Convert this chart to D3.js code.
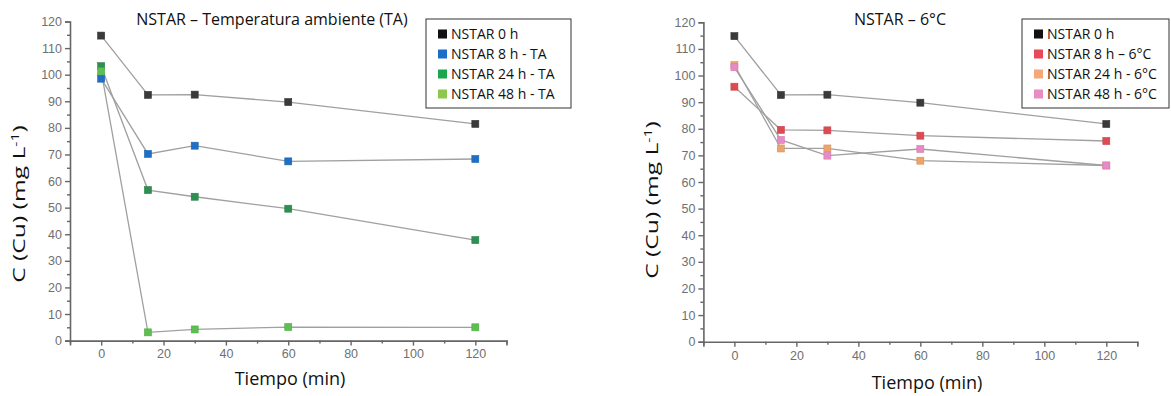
<!DOCTYPE html>
<html><head><meta charset="utf-8">
<script src="https://cdn.jsdelivr.net/npm/d3@7"></script>
<style>
body{margin:0;background:#fff;}
svg{display:block;}
</style></head>
<body><svg id="c" width="1171" height="396"></svg>
<script>
const times = [0, 15, 30, 60, 120];
const xTicks = [0, 20, 40, 60, 80, 100, 120];
const yTicks = [0, 10, 20, 30, 40, 50, 60, 70, 80, 90, 100, 110, 120];

const leftNames = ["NSTAR 0 h", "NSTAR 8 h - TA", "NSTAR 24 h - TA", "NSTAR 48 h - TA"];
const left0h = [114.7, 92.4, 92.5, 89.7, 81.5];
const left8h = [98.5, 70.2, 73.3, 67.4, 68.3];
const left24h = [103.2, 56.6, 54.1, 49.6, 37.8];
const left48h = [101.3, 3.1, 4.2, 5.1, 5.0];
const leftColors = ["#3a3a3a", "#1f6fc6", "#2f8f52", "#5cbf4f"];
const leftLegendColors = ["#111111", "#1a6ec8", "#1aa64a", "#8cc84b"];

const rightNames = ["NSTAR 0 h", "NSTAR 8 h \u2013 6\u00b0C", "NSTAR 24 h - 6\u00b0C", "NSTAR 48 h - 6\u00b0C"];
const right0h = [114.8, 92.7, 92.8, 89.8, 81.8];
const right8h = [95.8, 79.6, 79.4, 77.4, 75.4];
const right24h = [103.9, 72.6, 72.6, 68.0, 66.2];
const right48h = [103.1, 75.8, 69.9, 72.4, 66.2];
const rightColors = ["#3a3a3a", "#de4a52", "#eea468", "#e88ac6"];
const rightLegendColors = ["#111111", "#e8485a", "#f2a878", "#e88cc4"];

const svg = d3.select("#c");

function panel(cfg) {
  const x = d3.scaleLinear().domain([-10, 130]).range([cfg.x0, cfg.x1]);
  const y = d3.scaleLinear().domain([0, 120]).range([cfg.yb, cfg.yt]);
  const g = svg.append("g");

  const xAxis = d3.axisBottom(x).tickValues(xTicks).tickSize(5).tickPadding(4);
  const xMinor = d3.axisBottom(x).tickValues(d3.range(-10, 131, 10).filter(v => v % 20 !== 0)).tickSize(3).tickFormat("");
  const yAxis = d3.axisLeft(y).tickValues(yTicks).tickSize(5).tickPadding(3);
  const yMinor = d3.axisLeft(y).tickValues(d3.range(5, 120, 10)).tickSize(3).tickFormat("");

  const gx = g.append("g").attr("transform", `translate(0,${cfg.yb})`).call(xAxis);
  const gxm = g.append("g").attr("transform", `translate(0,${cfg.yb})`).call(xMinor);
  const gy = g.append("g").attr("transform", `translate(${cfg.x0},0)`).call(yAxis);
  const gym = g.append("g").attr("transform", `translate(${cfg.x0},0)`).call(yMinor);
  [gx, gxm, gy, gym].forEach(a => {
    a.select(".domain").attr("stroke", "#666").attr("stroke-width", 1.6);
    a.selectAll(".tick line").attr("stroke", "#666").attr("stroke-width", 1.4);
    a.selectAll(".tick text").attr("fill", "#707070").style("font-family", "Liberation Sans, Arial, sans-serif").style("font-size", "12.5px");
  });
  gxm.select(".domain").remove();
  gym.select(".domain").remove();

  const line = d3.line().x((d, i) => x(times[i])).y(d => y(d));
  cfg.series.forEach((s, k) => {
    g.append("path").datum(s).attr("d", line)
      .attr("fill", "none").attr("stroke", "#a0a0a0").attr("stroke-width", 1.3);
  });
  cfg.series.forEach((s, k) => {
    g.selectAll(null).data(s).enter().append("rect")
      .attr("x", (d, i) => x(times[i]) - 3.5).attr("y", d => y(d) - 3.5)
      .attr("width", 7).attr("height", 7)
      .attr("fill", cfg.colors[k])
      .attr("stroke", d3.color(cfg.colors[k]).darker(0.3)).attr("stroke-width", 0.6);
  });

  g.append("text").attr("x", cfg.titleX).attr("y", cfg.titleY).attr("text-anchor", "middle")
    .style("font-family", "Open Sans, sans-serif").style("font-size", "16px").attr("fill", "#111")
    .text(cfg.title);

  const lg = g.append("g");
  lg.append("rect").attr("x", cfg.lx).attr("y", 19).attr("width", cfg.lw).attr("height", 89)
    .attr("fill", "#fff").attr("stroke", "#333").attr("stroke-width", 1);
  cfg.names.forEach((n, i) => {
    const cy = 34 + i * 20;
    lg.append("rect").attr("x", cfg.lx + 12).attr("y", cy - 4.5).attr("width", 9).attr("height", 9).attr("fill", cfg.lcolors[i]);
    lg.append("text").attr("x", cfg.lx + 25).attr("y", cy + 5)
      .style("font-family", "Open Sans, sans-serif").style("font-size", "14px").attr("fill", "#111").text(n);
  });

  g.append("text").attr("x", cfg.xlX).attr("y", cfg.xlY).attr("text-anchor", "middle")
    .style("font-family", "Open Sans, sans-serif").style("font-size", "18px").attr("fill", "#111")
    .text("Tiempo (min)");
  const yl = g.append("text").attr("transform", `translate(${cfg.ylX},${cfg.ylY}) rotate(-90) scale(1.45,1)`).attr("text-anchor", "middle")
    .style("font-family", "Open Sans, sans-serif").style("font-size", "17px").attr("fill", "#111");
  yl.append("tspan").text("C (Cu) (mg L");
  yl.append("tspan").attr("dy", -6).style("font-size", "11px").text("-1");
  yl.append("tspan").attr("dy", 6).text(")");
}

panel({x0: 70, x1: 506.5, yb: 340.6, yt: 21.5, series: [left0h, left8h, left24h, left48h],
  colors: leftColors, lcolors: leftLegendColors, names: leftNames,
  title: "NSTAR \u2013 Temperatura ambiente (TA)", titleX: 272, titleY: 25,
  lx: 426, lw: 145, xlX: 290, xlY: 385, ylX: 25, ylY: 204});

panel({x0: 703.4, x1: 1137.3, yb: 341.7, yt: 22.3, series: [right0h, right8h, right24h, right48h],
  colors: rightColors, lcolors: rightLegendColors, names: rightNames,
  title: "NSTAR \u2013 6\u00b0C", titleX: 900, titleY: 25,
  lx: 1022, lw: 147, xlX: 927, xlY: 389, ylX: 658, ylY: 200});
</script></body></html>
